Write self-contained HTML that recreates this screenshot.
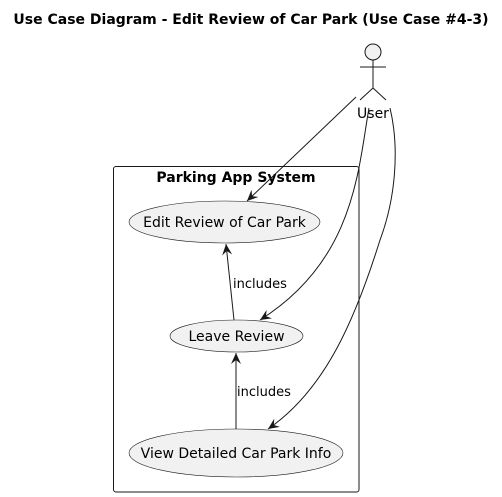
<!DOCTYPE html>
<html><head><meta charset="utf-8"><style>
html,body{margin:0;padding:0;background:#fff;}
svg{display:block;font-family:"DejaVu Sans","Liberation Sans",sans-serif;}
</style></head><body>
<svg width="502" height="497" viewBox="0 0 502 497" xmlns="http://www.w3.org/2000/svg">
<defs>
<marker id="a" viewBox="0 0 12 12" refX="11" refY="6" markerWidth="12" markerHeight="12" markerUnits="userSpaceOnUse" orient="auto">
<path d="M0,1 L11,6 L0,11 L4,6 Z" fill="#181818"/>
</marker>
</defs>
<text x="251" y="24" text-anchor="middle" font-size="14" font-weight="bold" fill="#000">Use Case Diagram - Edit Review of Car Park (Use Case #4-3)</text>
<g stroke="#181818" fill="none" stroke-width="1">
<circle cx="373" cy="52" r="8" fill="#f1f1f1"/>
<line x1="373" y1="60" x2="373" y2="88"/>
<line x1="360" y1="67" x2="386" y2="67"/>
<line x1="373" y1="88" x2="360" y2="100"/>
<line x1="373" y1="88" x2="386" y2="100"/>
</g>
<text x="373" y="118" text-anchor="middle" font-size="14" fill="#000">User</text>
<rect x="113.5" y="166.5" width="245.5" height="325.5" rx="2.5" fill="none" stroke="#181818" stroke-width="1"/>
<text x="236" y="182" text-anchor="middle" font-size="14" font-weight="bold" fill="#000">Parking App System</text>
<g stroke="#181818" fill="#f1f1f1" stroke-width="0.6">
<ellipse cx="224.5" cy="222" rx="95.5" ry="21"/>
<ellipse cx="236.5" cy="336" rx="66.5" ry="16"/>
<ellipse cx="236" cy="453" rx="107" ry="24"/>
</g>
<g font-size="14" fill="#000" text-anchor="middle">
<text x="224.5" y="227">Edit Review of Car Park</text>
<text x="236.5" y="341">Leave Review</text>
<text x="236" y="458">View Detailed Car Park Info</text>
</g>
<g stroke="#181818" fill="none" stroke-width="1" marker-end="url(#a)">
<path d="M356,97 L247,201"/>
<path d="M369,108 C358,170 355,260 260,320"/>
<path d="M390,108 C400,150 395,200 380,240 C355,320 325,390 268,429"/>
<path d="M234,320 L226,244"/>
<path d="M236,429 L236,353"/>
</g>
<g font-size="13" fill="#000">
<text x="233" y="288">includes</text>
<text x="237" y="396">includes</text>
</g>
</svg>
</body></html>
